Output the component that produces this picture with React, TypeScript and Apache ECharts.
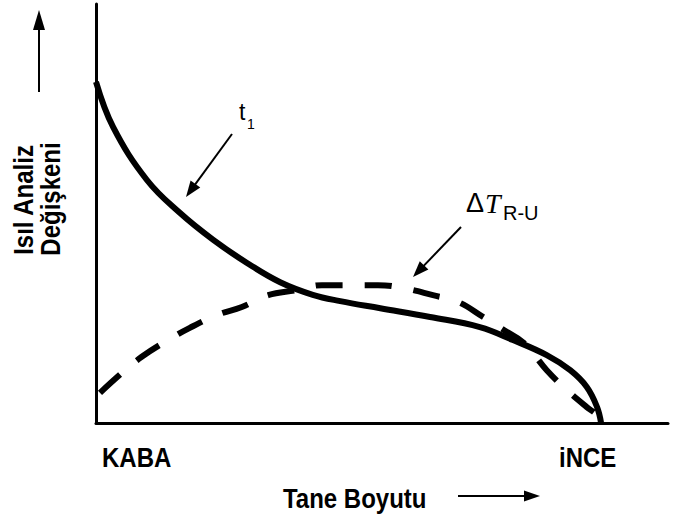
import React, { useEffect, useRef } from "react";
import * as echarts from "echarts";

// t1 curve (solid) — x: grain size (coarse → fine), y: thermal analysis variable
const solidX = [0, 3.0, 8.9, 14.7, 20.5, 26.4, 32.2, 37.9, 42.7, 49.7, 58.4, 67.1, 72.9, 78.8, 82.9, 85.8, 87.6, 88.3];
const solidY = [81.4, 70.6, 58.0, 50.1, 43.7, 38.2, 33.6, 30.6, 29.1, 27.4, 25.3, 22.9, 19.8, 16.2, 12.6, 8.6, 3.8, 0];

// ΔT R-U curve (dashed)
const dashX = [0.7, 4.5, 8.0, 12.6, 16.4, 21.2, 25.5, 30.1, 35.1, 39.5, 43.9, 49.3, 53.7, 58.9, 63.3, 67.7, 71.3, 74.8, 78.8, 82.3, 85.8, 87.6, 88.2];
const dashY = [7.2, 11.9, 15.8, 19.8, 22.7, 25.8, 27.7, 30.5, 31.7, 32.9, 32.9, 32.9, 32.2, 30.5, 28.9, 25.3, 22.2, 19.1, 12.6, 7.9, 3.8, 1.9, 0.5];

const xLabels = ["KABA", "iNCE"];
const xTitle = "Tane Boyutu";
const yTitle = ["Isıl Analiz", "Değişkeni"];

const FONT = "'Liberation Sans', Arial, sans-serif";

function arrow(x1: number, y1: number, x2: number, y2: number, head = 16, half = 6, width = 2) {
  const dx = x2 - x1;
  const dy = y2 - y1;
  const len = Math.sqrt(dx * dx + dy * dy);
  const ux = dx / len;
  const uy = dy / len;
  const bx = x2 - head * ux;
  const by = y2 - head * uy;
  const px = -uy * half;
  const py = ux * half;
  return [
    {
      type: "line",
      shape: { x1, y1, x2: bx + ux * 2, y2: by + uy * 2 },
      style: { stroke: "#000", lineWidth: width },
    },
    {
      type: "polygon",
      shape: { points: [[x2, y2], [bx + px, by + py], [bx - px, by - py]] },
      style: { fill: "#000" },
    },
  ];
}

function label(text: string, x: number, y: number, rotation = 0, align = "left") {
  return {
    type: "text",
    x,
    y,
    rotation,
    scaleY: 1.13,
    style: { text, font: `bold 24px ${FONT}`, fill: "#000", align, verticalAlign: "middle" },
  };
}

export default function App() {
  const ref = useRef<HTMLDivElement>(null);

  useEffect(() => {
    if (!ref.current) return;
    const chart = echarts.init(ref.current, undefined, { renderer: "svg" });
    const solidData = solidX.map((x, i) => [x, solidY[i]]);
    const dashData = dashX.map((x, i) => [x, dashY[i]]);

    const axisCommon = {
      type: "value" as const,
      min: 0,
      max: 100,
      axisLine: { show: true, lineStyle: { color: "#000", width: 3 } },
      axisTick: { show: false },
      axisLabel: { show: false },
      splitLine: { show: false },
    };

    chart.setOption({
      animation: false,
      backgroundColor: "#fff",
      grid: { left: 96, right: 11, top: 4, bottom: 92 },
      xAxis: axisCommon,
      yAxis: axisCommon,
      series: [
        {
          name: "t1",
          type: "line",
          data: solidData,
          smooth: 0.4,
          symbol: "none",
          lineStyle: { color: "#000", width: 6 },
        },
        {
          name: "ΔT R-U",
          type: "line",
          data: dashData,
          smooth: 0.4,
          symbol: "none",
          lineStyle: { color: "#000", width: 6, type: [27, 22], cap: "butt" },
        },
      ],
      graphic: [
        label(xLabels[0], 102, 457),
        label(xLabels[1], 559, 457),
        label(xTitle, 283, 498),
        ...arrow(458, 496, 540, 496, 16, 5.5, 2),
        label(yTitle[0], 23, 200, Math.PI / 2, "center"),
        label(yTitle[1], 50, 199, Math.PI / 2, "center"),
        ...arrow(39, 92, 39, 10, 20, 6, 2),
        // t1 annotation
        {
          type: "text",
          x: 239,
          y: 112,
          style: { text: "t", font: `23px ${FONT}`, fill: "#000", align: "left", verticalAlign: "middle" },
        },
        {
          type: "text",
          x: 247,
          y: 124,
          style: { text: "1", font: `14px ${FONT}`, fill: "#000", align: "left", verticalAlign: "middle" },
        },
        ...arrow(232, 134, 186, 197, 16, 6, 2),
        // ΔT R-U annotation
        {
          type: "text",
          x: 466,
          y: 203,
          style: { text: "Δ", font: `27px ${FONT}`, fill: "#000", align: "left", verticalAlign: "middle" },
        },
        {
          type: "text",
          x: 485,
          y: 203,
          style: { text: "T", font: `italic 28px 'Liberation Serif', 'Times New Roman', serif`, fill: "#000", align: "left", verticalAlign: "middle" },
        },
        {
          type: "text",
          x: 503,
          y: 213,
          style: { text: "R-U", font: `20px ${FONT}`, fill: "#000", align: "left", verticalAlign: "middle" },
        },
        ...arrow(461, 227, 413, 277, 16, 6, 2),
      ],
    });

    return () => chart.dispose();
  }, []);

  return (
    <div
      ref={ref}
      style={{ position: "absolute", left: 0, top: 0, width: 679, height: 515 }}
    />
  );
}
